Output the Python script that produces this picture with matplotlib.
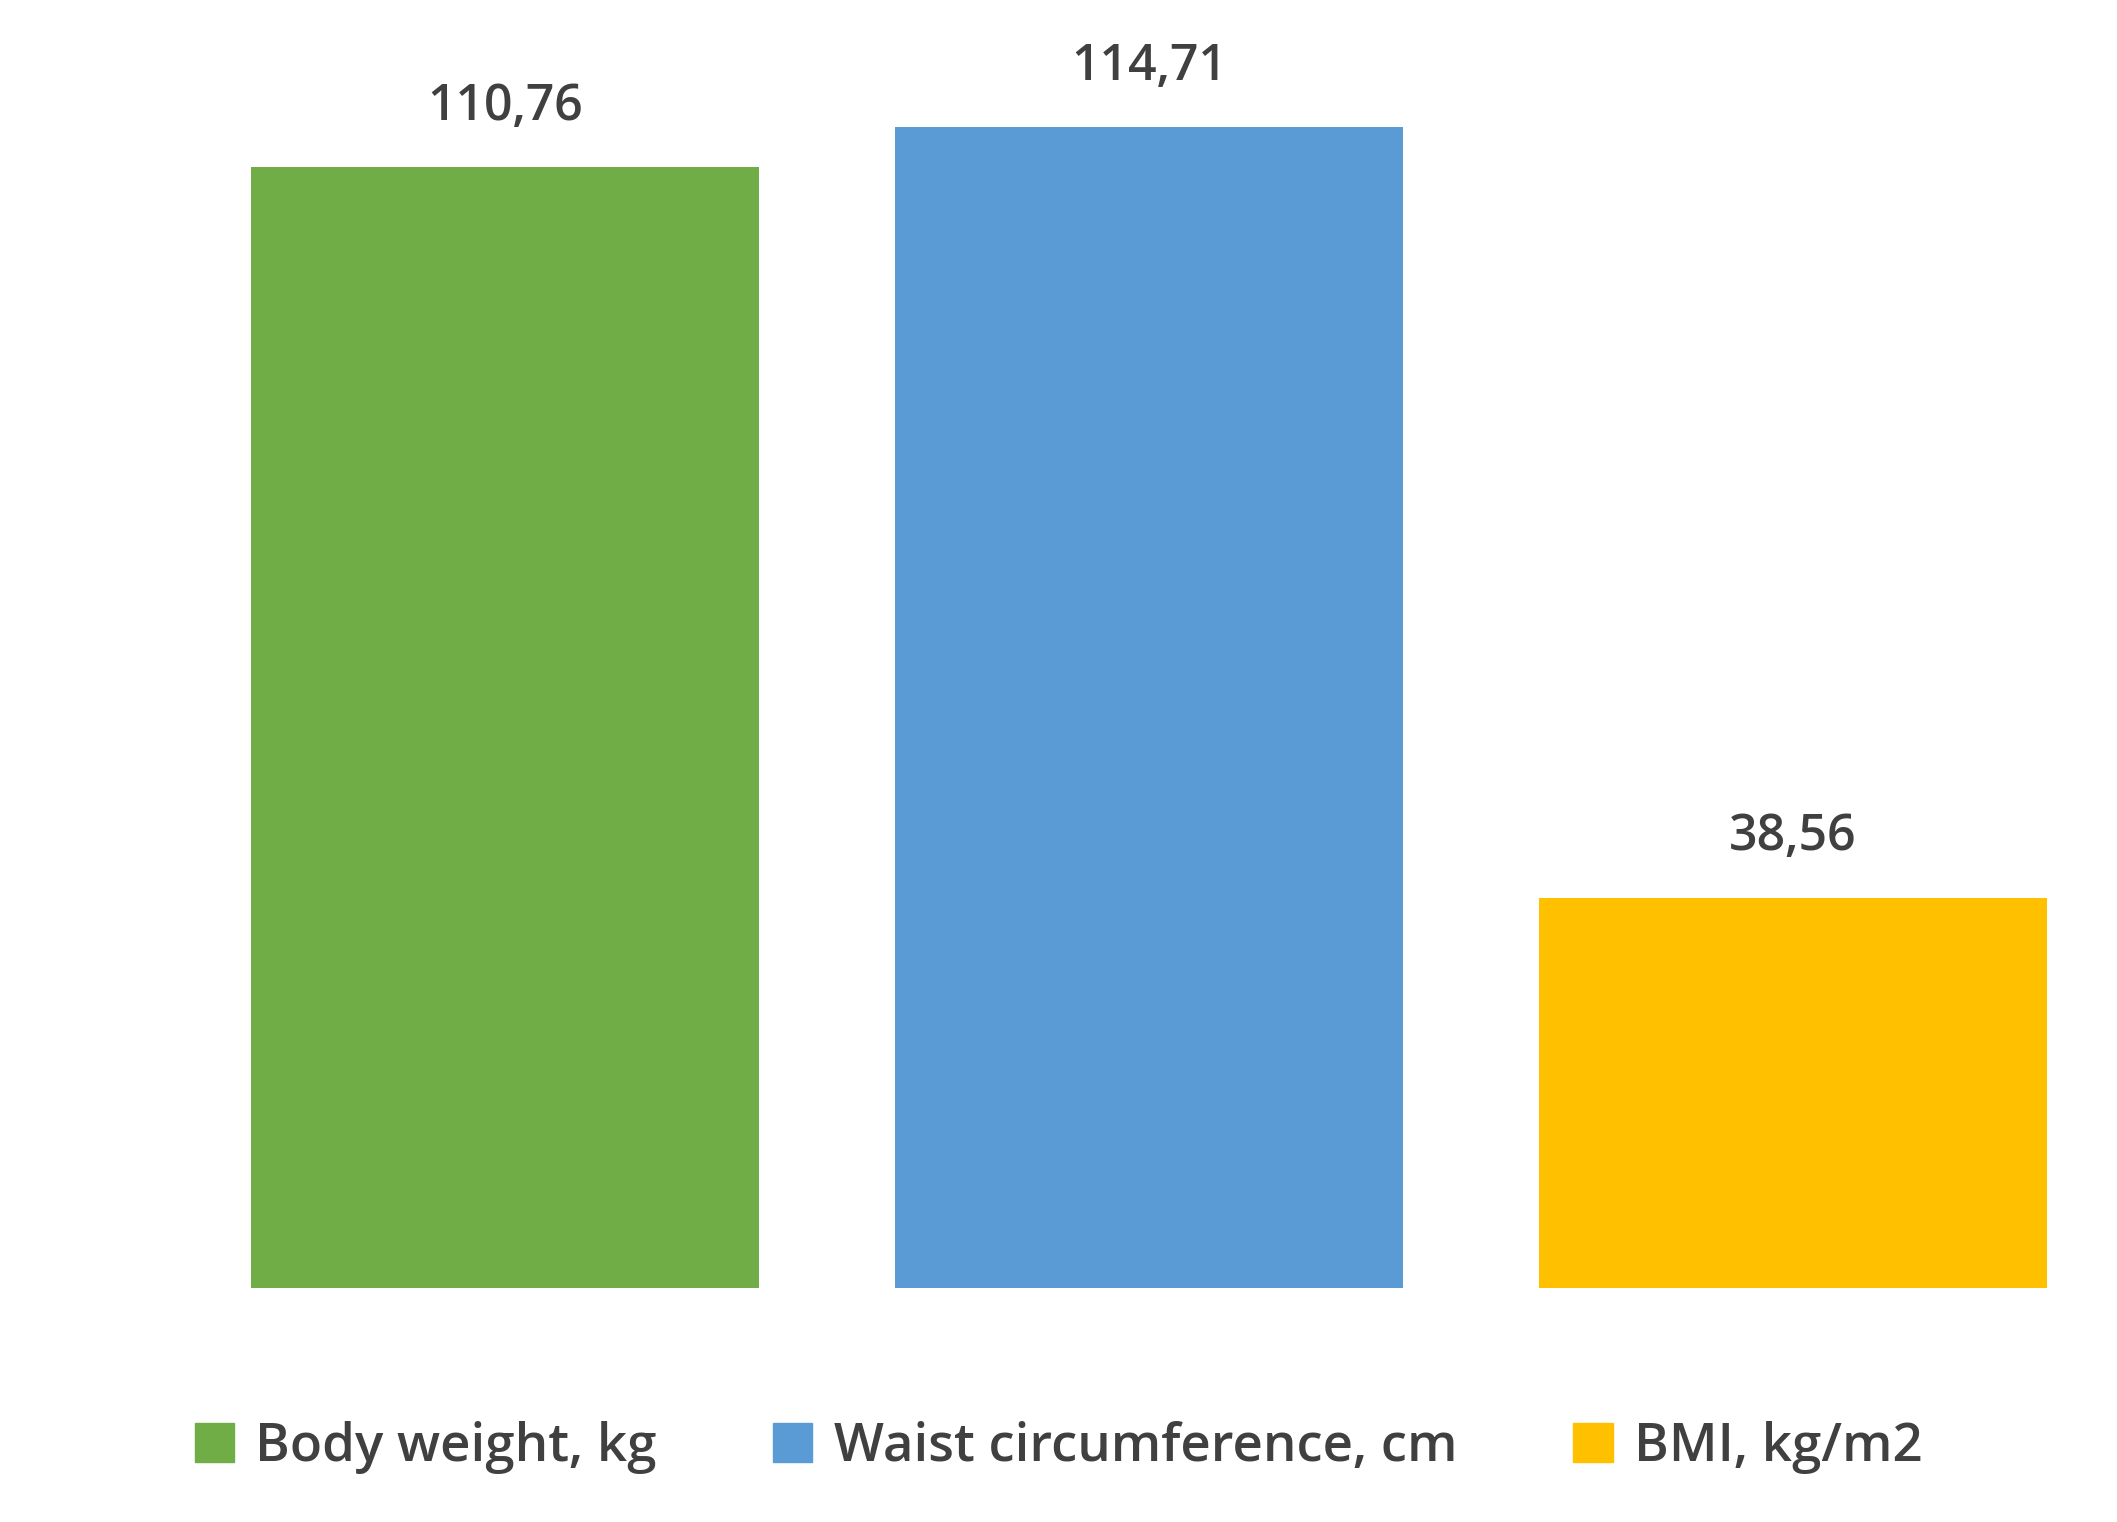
import matplotlib.pyplot as plt
from matplotlib.patches import Patch

labels = ['Body weight, kg', 'Waist circumference, cm', 'BMI, kg/m2']
values = [110.76, 114.71, 38.56]
value_text = ['110,76', '114,71', '38,56']
colors = ['#70AD47', '#5B9BD5', '#FFC000']

plt.rcParams['font.family'] = ['Open Sans', 'DejaVu Sans']
fig = plt.figure(figsize=(21.17, 15.22), dpi=100)
ax = fig.add_axes([0, 1 - 1288 / 1522, 1, 1288 / 1522])
x = [0, 1, 2]
ax.bar(x, values, width=0.789, color=colors)
for xi, v, t in zip(x, values, value_text):
    ax.text(xi, v + 3.5, t, ha='center', va='bottom', fontsize=36,
            fontweight='semibold', color='#404040')
ax.set_xlim(-0.784, 2.503)
ax.set_ylim(0, 127.3)
ax.axis('off')

handles = [Patch(color=c) for c in colors]
fig.legend(handles, labels, loc='center', bbox_to_anchor=(0.5, 0.049), ncol=3,
           frameon=False, fontsize=38, prop={'weight': 'semibold', 'size': 38},
           handlelength=0.75, handleheight=0.75, columnspacing=2.2, handletextpad=0.4,
           labelcolor='#404040')
fig.savefig('out.png', dpi=100)
